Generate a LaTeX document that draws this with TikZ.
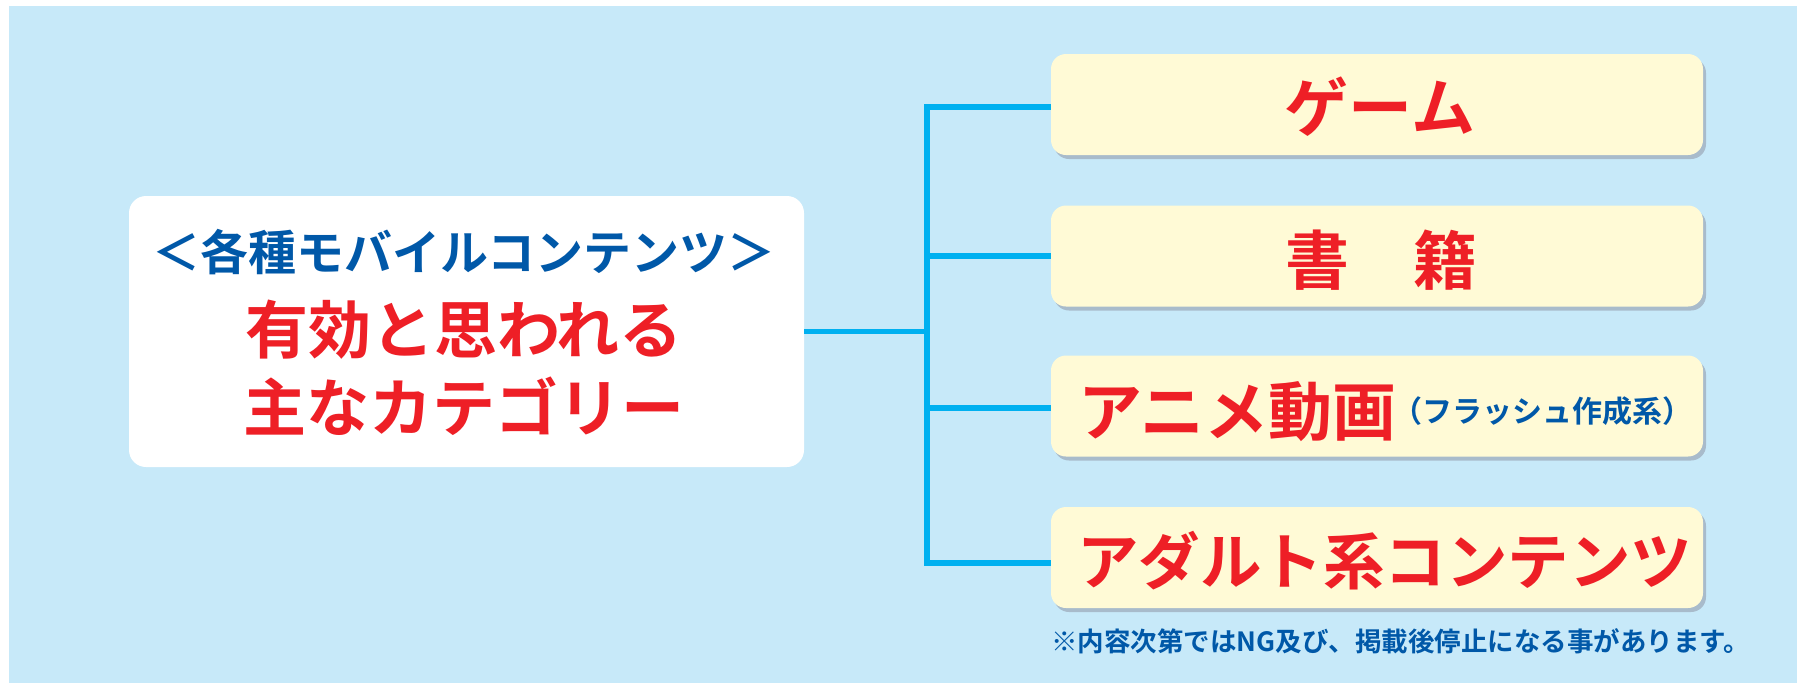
\documentclass[tikz,border=0pt]{standalone}
\usepackage{fontspec}
\newfontfamily\jp{Noto Sans CJK JP Bold}
\usetikzlibrary{shadows}
\definecolor{bgblue}{HTML}{C7E9F9}
\definecolor{linecol}{HTML}{00B0F0}
\definecolor{redtxt}{HTML}{EE1F26}
\definecolor{bluetxt}{HTML}{0058A8}
\definecolor{yellowbox}{HTML}{FFFAD6}
\definecolor{shadowcol}{HTML}{A5B6C6}
\tikzset{
  whitebox/.style={fill=white, rounded corners=17pt, minimum width=675pt, minimum height=271pt, inner sep=0pt},
  catbox/.style={fill=yellowbox, rounded corners=15pt, minimum width=652pt, minimum height=101pt, inner sep=0pt,
    drop shadow={shadow xshift=3pt, shadow yshift=-4pt, fill=shadowcol, opacity=0.9}},
  conn/.style={draw=linecol, line width=5.5pt},
  bigred/.style={inner sep=0pt, text=redtxt, font=\jp\fontsize{64}{70}\selectfont},
  midred/.style={inner sep=0pt, text=redtxt, font=\jp\fontsize{63}{70}\selectfont},
  adultred/.style={inner sep=0pt, text=redtxt, font=\jp\fontsize{61.5}{70}\selectfont},
  blueline/.style={inner sep=0pt, text=bluetxt, font=\jp\fontsize{48}{60}\selectfont},
  smallblue/.style={inner sep=0pt, text=bluetxt, font=\jp\fontsize{30}{34}\selectfont},
  noteblue/.style={inner sep=0pt, text=bluetxt, font=\jp\fontsize{26.5}{32}\selectfont}
}
\begin{document}
\begin{tikzpicture}[x=1pt,y=-1pt]
\useasboundingbox (0,0) rectangle (1809,683);
\fill[white] (0,0) rectangle (1809,683);
\fill[bgblue] (9,6) rectangle (1797,683);

% left box
\node[whitebox] (main) at (466.5,331.5) {};
\node[blueline] (t1) at (464,252) {＜各種モバイルコンテンツ＞};
\node[midred] (t2) at (464,330) {有効と思われる};
\node[midred] (t3) at (464,406) {主なカテゴリー};

% connectors
\coordinate (b1) at (927,107);
\coordinate (b2) at (927,256);
\coordinate (b3) at (927,408);
\coordinate (b4) at (927,563);

% category boxes
\node[catbox] (g1) at (1377,104.5) {};
\node[catbox] (g2) at (1377,256) {};
\node[catbox] (g3) at (1377,406) {};
\node[catbox] (g4) at (1377,557.5) {};

\draw[conn] (main.east) -- (main.east -| b1);
\draw[conn, line join=miter] (b1 -| g1.west) -- (b1) -- (b4) -- (b4 -| g4.west);
\draw[conn] (b2) -- (b2 -| g2.west);
\draw[conn] (b3) -- (b3 -| g3.west);

\node[bigred] (l1) at (1380,106.5) {ゲーム};
\node[bigred] (l2) at (1381,260) {書　籍};
\node[bigred, anchor=west] (l3) at (1078,412) {アニメ動画};
\node[smallblue, anchor=west] (l3b) at (1392,411) {（フラッシュ作成系）};
\node[adultred, anchor=west] (l4) at (1077,561) {アダルト系コンテンツ};

\node[noteblue, anchor=west] (note) at (1051,641) {※内容次第ではNG及び、掲載後停止になる事があります。};
\end{tikzpicture}
\end{document}
